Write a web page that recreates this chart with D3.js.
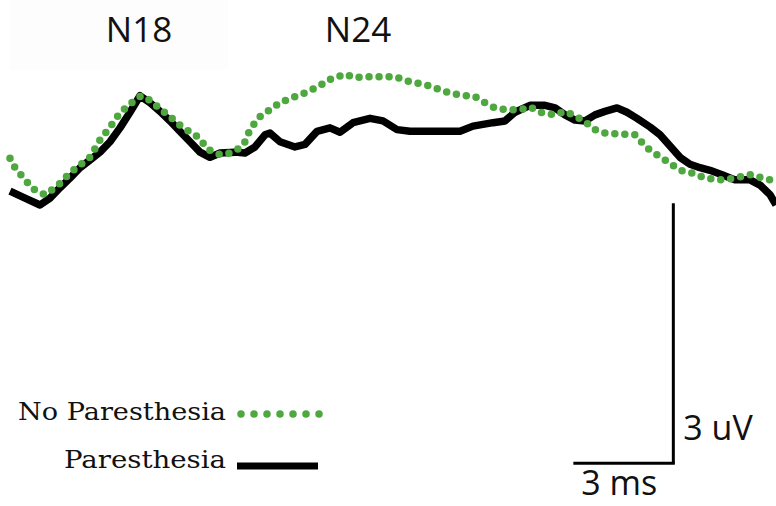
<!DOCTYPE html>
<html><head><meta charset="utf-8">
<script src="https://cdn.jsdelivr.net/npm/d3@7"></script>
<style>html,body{margin:0;padding:0;background:#fff;}svg{display:block;}</style>
</head><body>
<script>
// Time (ms) and amplitude (uV)
const parTime = [0,0.45,0.9,1.2,1.5,1.8,2.1,2.4,2.7,3.0,3.3,3.6,3.9,4.2,4.5,4.8,5.1,5.4,5.7,6.0,6.3,6.75,7.05,7.35,7.65,7.8,8.1,8.55,8.85,9.21,9.6,9.9,10.29,10.8,11.19,11.61,12.0,13.5,13.89,14.49,14.85,15.15,15.6,16.05,16.35,16.65,16.95,17.25,17.55,17.85,18.21,18.51,18.81,19.2,19.5,19.8,20.1,20.4,20.7,21.0,21.36,21.75,22.2,22.5,22.8,22.98];
const parAmp  = [0.16,0.08,0,0.08,0.20,0.31,0.43,0.52,0.61,0.73,0.89,1.07,1.26,1.18,1.08,0.97,0.85,0.73,0.61,0.55,0.60,0.61,0.60,0.67,0.81,0.83,0.73,0.67,0.70,0.85,0.89,0.84,0.95,1.00,0.97,0.87,0.85,0.85,0.91,0.95,0.97,1.07,1.15,1.15,1.12,1.04,0.98,0.97,1.04,1.08,1.12,1.07,1.00,0.90,0.81,0.68,0.55,0.47,0.43,0.40,0.35,0.29,0.29,0.23,0.12,0];
const noParTime = [0,0.15,0.45,0.75,1.05,1.35,1.5,1.8,2.1,2.4,2.7,3.0,3.24,3.51,3.75,3.93,4.2,4.5,4.8,5.1,5.4,5.7,5.85,6.0,6.3,6.6,6.9,7.05,7.2,7.35,7.5,7.8,8.1,8.4,8.7,9.0,9.3,9.6,10.05,10.35,10.65,11.1,11.55,12.0,12.45,12.9,13.2,13.5,13.95,14.25,14.55,14.85,15.3,15.6,15.9,16.35,16.65,16.95,17.25,17.55,17.85,18.3,18.75,18.96,19.2,19.65,20.1,20.55,20.85,21.3,21.75,22.2,22.5,22.8,22.98];
const noParAmp  = [0.54,0.43,0.29,0.17,0.12,0.20,0.25,0.37,0.46,0.55,0.75,0.90,1.03,1.14,1.21,1.26,1.21,1.11,1.02,0.92,0.84,0.77,0.68,0.63,0.58,0.60,0.66,0.73,0.87,0.95,1.02,1.10,1.18,1.23,1.27,1.32,1.38,1.45,1.51,1.47,1.48,1.48,1.48,1.42,1.39,1.33,1.29,1.27,1.25,1.18,1.12,1.10,1.10,1.13,1.07,1.04,1.08,1.03,0.96,0.87,0.83,0.82,0.81,0.72,0.63,0.52,0.40,0.36,0.31,0.29,0.31,0.35,0.32,0.29,0.27];
const peakLabels = ["N18","N24"];
const peakLabelTime = [3.87,10.44];
const legendLabels = ["No Paresthesia","Paresthesia"];
const scaleBarTime = [16.9,19.9];   // 3 ms
const scaleBarAmp  = [-2.98,0.02];  // 3 uV
const scaleBarLabels = ["3 uV","3 ms"];

const W=776,H=506;
const green="#4ea83f";
const svg=d3.select("body").append("svg").attr("width",W).attr("height",H);

// 3 ms = 100 px, 3 uV = 260 px
const x=d3.scaleLinear().domain([0,3]).range([10,110]);
const y=d3.scaleLinear().domain([0,3]).range([205,-55]);

// faint panel behind N18
svg.append("rect").attr("x",10).attr("y",0).attr("width",218).attr("height",70).attr("fill","#fdfdfd");

const line=d3.line().x(d=>x(d[0])).y(d=>y(d[1])).curve(d3.curveLinear);
const par=parTime.map((t,i)=>[t,parAmp[i]]);
const nopar=noParTime.map((t,i)=>[t,noParAmp[i]]);

svg.append("path").attr("d",line(par)).attr("fill","none").attr("stroke","#000")
  .attr("stroke-width",7.5).attr("stroke-linejoin","round");
svg.append("path").attr("d",line(nopar)).attr("fill","none").attr("stroke",green)
  .attr("stroke-width",7.5).attr("stroke-linecap","round").attr("stroke-dasharray","0 10");

// peak labels
svg.selectAll("text.peak").data(peakLabels).join("text").attr("class","peak")
  .attr("x",(d,i)=>x(peakLabelTime[i])).attr("y",42).attr("text-anchor","middle")
  .attr("font-family","'Open Sans', sans-serif").attr("font-size",35).attr("fill","#111").text(d=>d);

// scale bars
svg.append("line").attr("x1",x(scaleBarTime[1])).attr("x2",x(scaleBarTime[1]))
  .attr("y1",y(scaleBarAmp[0])).attr("y2",y(scaleBarAmp[1])).attr("stroke","#000").attr("stroke-width",3);
svg.append("line").attr("x1",x(scaleBarTime[0])).attr("x2",x(scaleBarTime[1])+1.5)
  .attr("y1",y(scaleBarAmp[0])).attr("y2",y(scaleBarAmp[0])).attr("stroke","#000").attr("stroke-width",3);
svg.append("text").attr("x",x(scaleBarTime[1])+10).attr("y",440)
  .attr("font-family","'Open Sans', sans-serif").attr("font-size",34).attr("fill","#111").text(scaleBarLabels[0]);
svg.append("text").attr("x",x(scaleBarTime[0])+8).attr("y",495)
  .attr("font-family","'Open Sans', sans-serif").attr("font-size",34).attr("fill","#111").text(scaleBarLabels[1]);

// legend
const ly=[420,468];
const lw=[208,162];
svg.selectAll("text.leg").data(legendLabels).join("text").attr("class","leg")
  .attr("x",(d,i)=>226-lw[i]).attr("y",(d,i)=>ly[i])
  .attr("textLength",(d,i)=>lw[i]).attr("lengthAdjust","spacingAndGlyphs")
  .attr("font-family","'DejaVu Serif', serif").attr("font-size",24).attr("fill","#111").text(d=>d);
svg.append("line").attr("x1",241).attr("x2",321).attr("y1",414).attr("y2",414)
  .attr("stroke",green).attr("stroke-width",7.5).attr("stroke-linecap","round").attr("stroke-dasharray","0 13");
svg.append("line").attr("x1",237).attr("x2",318).attr("y1",466).attr("y2",466)
  .attr("stroke","#000").attr("stroke-width",7);
</script>
</body></html>
